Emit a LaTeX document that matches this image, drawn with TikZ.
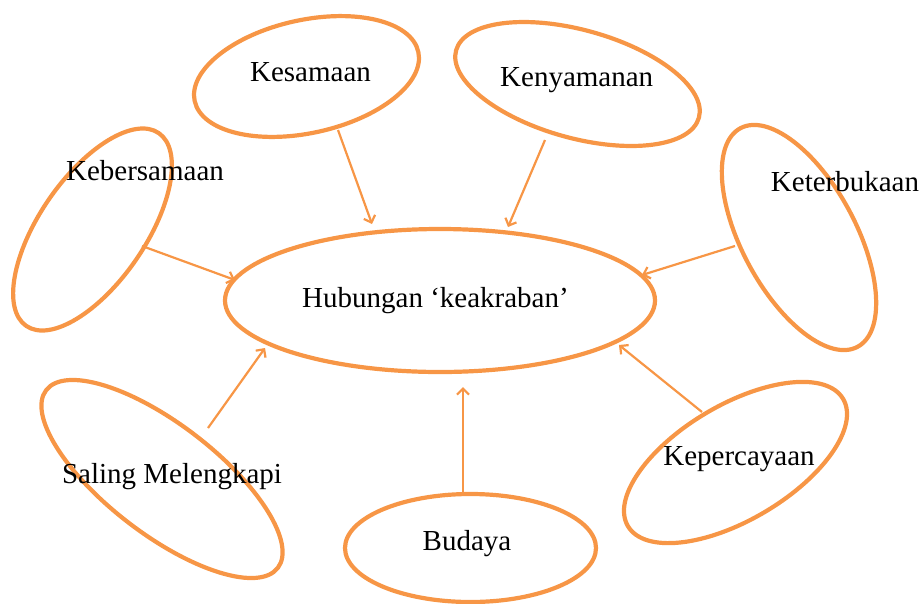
\documentclass[tikz,border=0pt]{standalone}
\usepackage{fontspec}
\setmainfont{Liberation Serif}
\usetikzlibrary{shapes.geometric,arrows.meta}
\definecolor{orng}{HTML}{F79646}
\tikzset{
  oval/.style={draw=orng, line width=4.2pt, ellipse, inner sep=0pt, minimum width=#1},
  lbl/.style={anchor=base, inner sep=0pt, font=\fontsize{29}{34}\selectfont},
  arr/.style={draw=orng, line width=2.2pt, -{Straight Barb[length=6pt,width=12pt,line width=2.2pt]}}
}
\begin{document}
\begin{tikzpicture}[x=1pt,y=-1pt]
\useasboundingbox (0,0) rectangle (921,603);
% ellipses
\node[oval=430pt, minimum height=143pt] (hub) at (440,300.5) {};
\node[oval=229pt, minimum height=113pt, rotate=12.4] (kes) at (306.5,76.5) {};
\node[oval=252pt, minimum height=108pt, rotate=-15.5] (ken) at (577.5,84) {};
\node[oval=234pt, minimum height=106pt, rotate=55.5] (keb) at (92.5,229.5) {};
\node[oval=248pt, minimum height=114pt, rotate=-61.8] (ket) at (799,237.5) {};
\node[oval=292pt, minimum height=110pt, rotate=-37.5] (sal) at (162,479) {};
\node[oval=250pt, minimum height=115pt, rotate=30.6] (kep) at (735.5,462.5) {};
\node[oval=251pt, minimum height=108pt] (bud) at (470.5,548) {};
% labels
\node[lbl] (thub) at (435.5,307) {Hubungan ‘keakraban’};
\node[lbl] (tkes) at (310.5,81) {Kesamaan};
\node[lbl] (tken) at (576.7,86.7) {Kenyamanan};
\node[lbl] (tkeb) at (145,180.7) {Kebersamaan};
\node[lbl] (tket) at (845,191.7) {Keterbukaan};
\node[lbl] (tsal) at (172,483.3) {Saling Melengkapi};
\node[lbl] (tkep) at (739,465) {Kepercayaan};
\node[lbl] (tbud) at (467,550.7) {Budaya};
% connector end points
\coordinate (kebS) at (142,246);  \coordinate (kebE) at (235,280);
\coordinate (ketS) at (735,246);  \coordinate (ketE) at (642,275);
\coordinate (kesS) at (338,130);  \coordinate (kesE) at (372,224);
\coordinate (kenS) at (545,140);  \coordinate (kenE) at (508,227);
\coordinate (salS) at (208,428);  \coordinate (salE) at (265,348);
\coordinate (kepS) at (702,412);  \coordinate (kepE) at (619,345);
\coordinate (budS) at (463,492);  \coordinate (budE) at (463,387);
\draw[arr] (kebS) -- (kebE);
\draw[arr] (ketS) -- (ketE);
\draw[arr] (kesS) -- (kesE);
\draw[arr] (kenS) -- (kenE);
\draw[arr] (salS) -- (salE);
\draw[arr] (kepS) -- (kepE);
\draw[arr] (budS) -- (budE);
\end{tikzpicture}
\end{document}
